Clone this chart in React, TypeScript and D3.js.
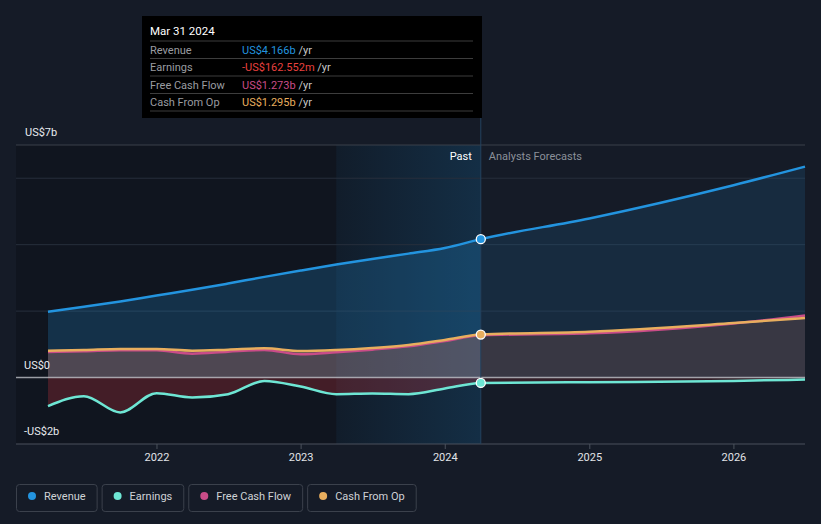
import React, { useEffect, useRef } from 'react';
import * as d3 from 'd3';

// quarterly history + analyst forecast (US$ billions)
const dates = [
  '2021-03-31', '2021-06-30', '2021-09-30', '2021-12-31',
  '2022-03-31', '2022-06-30', '2022-09-30', '2022-12-31',
  '2023-03-31', '2023-06-30', '2023-09-30', '2023-12-31',
  '2024-03-31', '2024-12-31', '2025-12-31', '2026-06-30'
];
const revenue = [1.98, 2.13, 2.29, 2.47, 2.64, 2.83, 3.03, 3.22, 3.4, 3.57, 3.73, 3.9, 4.166, 4.79, 5.79, 6.35];
const earnings = [-0.86, -0.56, -1.05, -0.47, -0.6, -0.5, -0.1, -0.27, -0.5, -0.48, -0.5, -0.33, -0.163, -0.14, -0.1, -0.06];
const freeCashFlow = [0.77, 0.79, 0.82, 0.82, 0.72, 0.78, 0.83, 0.7, 0.76, 0.84, 0.94, 1.1, 1.273, 1.33, 1.63, 1.87];
const cashFromOp = [0.81, 0.83, 0.86, 0.86, 0.81, 0.84, 0.88, 0.8, 0.83, 0.89, 0.98, 1.13, 1.295, 1.38, 1.64, 1.79];

const yTicks = [-2, 0, 2, 4, 6, 7];
const yLabels = [
  { v: 7, text: 'US$7b' },
  { v: 0, text: 'US$0' },
  { v: -2, text: '-US$2b' }
];
const xTickYears = [2022, 2023, 2024, 2025, 2026];

const tooltipDate = 'Mar 31 2024';
const tooltipRows = [
  { label: 'Revenue', value: 'US$4.166b', color: '#2394df' },
  { label: 'Earnings', value: '-US$162.552m', color: '#e8413f' },
  { label: 'Free Cash Flow', value: 'US$1.273b', color: '#c94c88' },
  { label: 'Cash From Op', value: 'US$1.295b', color: '#e8ae5e' }
];

const legendItems = [
  { label: 'Revenue', color: '#2394df' },
  { label: 'Earnings', color: '#6ee6d4' },
  { label: 'Free Cash Flow', color: '#c94c88' },
  { label: 'Cash From Op', color: '#e8ae5e' }
];

const W = 821;
const H = 524;
const FONT = 'Roboto, "Noto Sans", sans-serif';

const App: React.FC = () => {
  const svgRef = useRef<SVGSVGElement>(null);

  useEffect(() => {
    if (!svgRef.current) return;
    const svg = d3.select(svgRef.current);
    svg.selectAll('*').remove();

    const parse = d3.timeParse('%Y-%m-%d');
    const rows = dates.map((d, i) => ({
      date: parse(d) as Date,
      rev: revenue[i],
      earn: earnings[i],
      fcf: freeCashFlow[i],
      cfo: cashFromOp[i]
    }));
    const nowDate = parse('2024-03-31') as Date;
    const highlightStart = parse('2023-03-31') as Date;

    const left = 16;
    const right = 805;
    const top = 145;
    const bottom = 444;

    const x = d3.scaleTime()
      .domain([parse('2021-01-09') as Date, parse('2026-06-30') as Date])
      .range([left, right]);
    const y = d3.scaleLinear().domain([-2, 7]).range([bottom, top]);

    const xNow = x(nowDate);

    // background
    svg.append('rect').attr('width', W).attr('height', H).attr('fill', '#151b27');

    const defs = svg.append('defs');
    const hl = defs.append('linearGradient').attr('id', 'hl').attr('x1', '0').attr('x2', '1').attr('y1', '0').attr('y2', '0');
    hl.append('stop').attr('offset', '0%').attr('stop-color', '#2394df').attr('stop-opacity', 0.06);
    hl.append('stop').attr('offset', '100%').attr('stop-color', '#2394df').attr('stop-opacity', 0.2);

    defs.append('clipPath').attr('id', 'clipPast')
      .append('rect').attr('x', left).attr('y', 0).attr('width', xNow - left).attr('height', H);
    defs.append('clipPath').attr('id', 'clipFuture')
      .append('rect').attr('x', xNow).attr('y', 0).attr('width', right - xNow).attr('height', H);

    // past region darker
    svg.append('rect')
      .attr('x', left).attr('y', top)
      .attr('width', xNow - left).attr('height', bottom - top)
      .attr('fill', '#000').attr('opacity', 0.2);
    // last-year highlight
    svg.append('rect')
      .attr('x', x(highlightStart)).attr('y', top)
      .attr('width', xNow - x(highlightStart)).attr('height', bottom - top)
      .attr('fill', 'url(#hl)');

    // grid
    svg.append('g').selectAll('line')
      .data(yTicks.filter(v => v !== 0 && v !== -2))
      .enter().append('line')
      .attr('x1', left).attr('x2', right)
      .attr('y1', d => y(d)).attr('y2', d => y(d))
      .attr('stroke', d => d === 7 ? '#3a404b' : '#272f3c')
      .attr('stroke-width', 1);

    // areas
    const revArea = d3.area<any>()
      .x(d => x(d.date))
      .y0(d => y(Math.max(d.cfo, d.fcf)))
      .y1(d => y(d.rev))
      .curve(d3.curveMonotoneX);
    const cashArea = d3.area<any>()
      .x(d => x(d.date))
      .y0(y(0))
      .y1(d => y(Math.max(d.cfo, d.fcf)))
      .curve(d3.curveMonotoneX);
    const earnArea = d3.area<any>()
      .x(d => x(d.date))
      .y0(y(0))
      .y1(d => y(Math.min(0, d.earn)))
      .curve(d3.curveMonotoneX);

    const drawAreas = (clip: string, k: number) => {
      const g = svg.append('g').attr('clip-path', `url(#${clip})`);
      g.append('path').datum(rows).attr('d', revArea as any)
        .attr('fill', '#2394df').attr('opacity', 0.22 * k);
      g.append('path').datum(rows).attr('d', cashArea as any)
        .attr('fill', '#a58c98').attr('opacity', 0.42 * k);
      g.append('path').datum(rows).attr('d', earnArea as any)
        .attr('fill', '#d8383c').attr('opacity', 0.26 * k);
    };
    drawAreas('clipPast', 1);
    drawAreas('clipFuture', 0.6);

    // zero line and bottom axis
    svg.append('line')
      .attr('x1', left).attr('x2', right).attr('y1', y(0)).attr('y2', y(0))
      .attr('stroke', '#c8ccd2').attr('stroke-width', 1.5).attr('opacity', 0.75);
    svg.append('line')
      .attr('x1', left).attr('x2', right).attr('y1', bottom).attr('y2', bottom)
      .attr('stroke', '#4b515c').attr('stroke-width', 1);
    svg.append('g').selectAll('line')
      .data(xTickYears)
      .enter().append('line')
      .attr('x1', d => x(new Date(d, 0, 1))).attr('x2', d => x(new Date(d, 0, 1)))
      .attr('y1', bottom).attr('y2', bottom + 5)
      .attr('stroke', '#4b515c');
    svg.append('g').selectAll('text')
      .data(xTickYears)
      .enter().append('text')
      .attr('x', d => x(new Date(d, 0, 1)))
      .attr('y', 461)
      .attr('text-anchor', 'middle')
      .style('font-family', FONT)
      .style('font-size', '11px')
      .style('fill', '#e2e4e8')
      .text(d => String(d));

    // lines
    const mkLine = (key: string) => d3.line<any>()
      .x(d => x(d.date))
      .y(d => y(d[key]))
      .curve(d3.curveMonotoneX);
    const series = [
      { key: 'rev', color: '#2394df' },
      { key: 'earn', color: '#6ee6d4' },
      { key: 'fcf', color: '#c94c88' },
      { key: 'cfo', color: '#e8ae5e' }
    ];
    series.forEach(s => {
      svg.append('path').datum(rows)
        .attr('d', mkLine(s.key) as any)
        .attr('fill', 'none')
        .attr('stroke', s.color)
        .attr('stroke-width', 2.5)
        .attr('stroke-linejoin', 'round');
    });

    // now marker
    svg.append('line')
      .attr('x1', xNow).attr('x2', xNow).attr('y1', 16).attr('y2', bottom)
      .attr('stroke', '#24425e').attr('stroke-width', 1);

    const nowRow = rows.find(r => +r.date === +nowDate)!;
    [
      { v: nowRow.rev, color: '#2394df' },
      { v: nowRow.earn, color: '#6ee6d4' },
      { v: nowRow.cfo, color: '#e8ae5e' }
    ].forEach(p => {
      svg.append('circle')
        .attr('cx', xNow).attr('cy', y(p.v)).attr('r', 4.5)
        .attr('fill', p.color).attr('stroke', '#fff').attr('stroke-width', 1.3);
    });

    // past / forecast labels
    svg.append('text')
      .attr('x', xNow - 9).attr('y', 160)
      .attr('text-anchor', 'end')
      .style('font-family', FONT).style('font-size', '11px').style('fill', '#ffffff')
      .text('Past');
    svg.append('text')
      .attr('x', xNow + 8).attr('y', 160)
      .style('font-family', FONT).style('font-size', '11px').style('fill', '#8b9099')
      .text('Analysts Forecasts');

    // y labels
    svg.append('g').selectAll('text')
      .data(yLabels)
      .enter().append('text')
      .attr('x', d => d.v === 7 ? 25 : 24)
      .attr('y', d => y(d.v) - 9)
      .style('font-family', FONT)
      .style('font-size', '11px')
      .style('fill', '#e8eaee')
      .text(d => d.text);

    // tooltip
    const tip = svg.append('g');
    tip.append('rect')
      .attr('x', 142).attr('y', 16).attr('width', 340).attr('height', 102)
      .attr('fill', '#000');
    tip.append('text')
      .attr('x', 150).attr('y', 35)
      .style('font-family', FONT).style('font-size', '11.5px').style('fill', '#fff')
      .text(tooltipDate);
    const rowY = [41, 58.5, 76, 93.5, 111];
    rowY.forEach(yy => {
      tip.append('line')
        .attr('x1', 150).attr('x2', 473).attr('y1', yy).attr('y2', yy)
        .attr('stroke', '#3d3d3d').attr('stroke-width', 1);
    });
    tooltipRows.forEach((r, i) => {
      const ty = rowY[i] + 12.5;
      tip.append('text')
        .attr('x', 150).attr('y', ty)
        .style('font-family', FONT).style('font-size', '11px').style('fill', '#9a9ca0')
        .text(r.label);
      const t = tip.append('text')
        .attr('x', 242).attr('y', ty)
        .style('font-family', FONT).style('font-size', '11px');
      t.append('tspan').style('fill', r.color).text(r.value);
      t.append('tspan').style('fill', '#c8c8c8').text(' /yr');
    });

    // legend
    const lg = svg.append('g');
    let lx = 16;
    legendItems.forEach(item => {
      const g = lg.append('g');
      const txt = g.append('text')
        .attr('x', lx + 28).attr('y', 499.5)
        .style('font-family', FONT).style('font-size', '11px').style('fill', '#cfd2d6')
        .text(item.label);
      const tw = (txt.node() as SVGTextElement).getComputedTextLength();
      const bw = 28 + tw + 11;
      g.insert('rect', 'text')
        .attr('x', lx + 0.5).attr('y', 484.5)
        .attr('width', bw).attr('height', 27)
        .attr('rx', 3)
        .attr('fill', 'none')
        .attr('stroke', '#3b414c');
      g.append('circle')
        .attr('cx', lx + 16).attr('cy', 496).attr('r', 4)
        .attr('fill', item.color);
      lx += bw + 5;
    });
  }, []);

  return (
    <svg
      ref={svgRef}
      width={W}
      height={H}
      style={{ position: 'absolute', left: 0, top: 0, display: 'block' }}
    />
  );
};

export default App;
